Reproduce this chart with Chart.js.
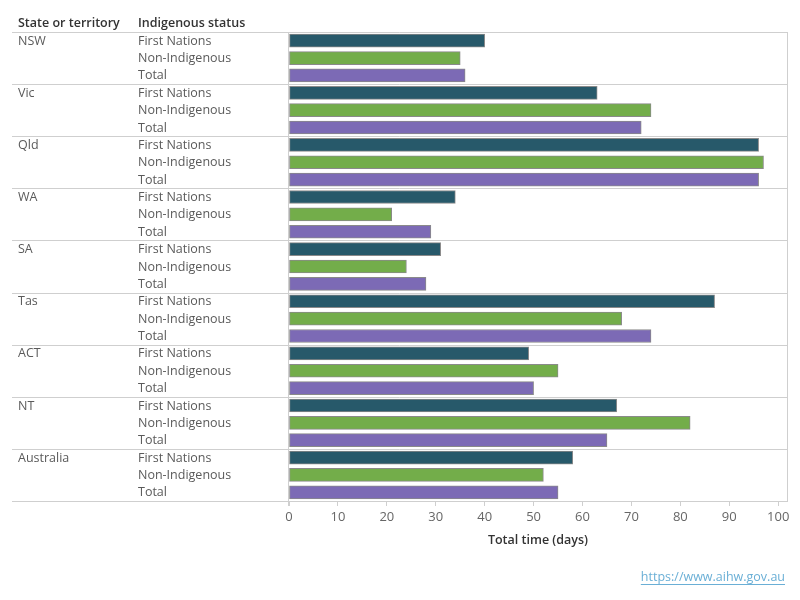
<!DOCTYPE html>
<html>
<head>
<meta charset="utf-8">
<script src="https://cdn.jsdelivr.net/npm/chart.js@4"></script>
<style>
  html, body { margin: 0; padding: 0; background: #fff; }
  #wrap { width: 800px; height: 600px; }
</style>
</head>
<body>
<div id="wrap"><canvas id="chart" width="800" height="600"></canvas></div>
<script>
const states = ["NSW", "Vic", "Qld", "WA", "SA", "Tas", "ACT", "NT", "Australia"];
const statuses = ["First Nations", "Non-Indigenous", "Total"];
const firstNations = [40, 63, 96, 34, 31, 87, 49, 67, 58];
const nonIndigenous = [35, 74, 97, 21, 24, 68, 55, 82, 52];
const totals = [36, 72, 96, 29, 28, 74, 50, 65, 55];
const xTicks = [0, 10, 20, 30, 40, 50, 60, 70, 80, 90, 100];

const statusColours = ["#27596a", "#73ad4a", "#7c6ab5"];
const labelFont = "12.5px 'Open Sans', sans-serif";
const headFont = "600 12.5px 'Open Sans', sans-serif";

// one row per state/status pair
const rowLabels = [];
const rowValues = [];
const rowColours = [];
states.forEach((s, i) => {
  [firstNations[i], nonIndigenous[i], totals[i]].forEach((v, j) => {
    rowLabels.push(s + "|" + statuses[j]);
    rowValues.push(v);
    rowColours.push(statusColours[j]);
  });
});

const tablePlugin = {
  id: "table",
  afterDraw(chart) {
    const ctx = chart.ctx;
    const area = chart.chartArea;
    const y = chart.scales.y;
    const rowH = (area.bottom - area.top) / rowLabels.length;
    ctx.save();

    // header
    ctx.fillStyle = "#333";
    ctx.font = headFont;
    ctx.textBaseline = "middle";
    ctx.fillText("State or territory", 18, 23);
    ctx.fillText("Indigenous status", 138, 23);

    // row labels
    ctx.font = labelFont;
    ctx.fillStyle = "#5a5a5a";
    rowLabels.forEach((lab, i) => {
      const py = y.getPixelForValue(i);
      const idx = i % 3;
      if (idx === 0) ctx.fillText(states[Math.floor(i / 3)], 18, py + 0.5);
      ctx.fillText(statuses[idx], 138, py + 0.5);
    });

    // group separators
    ctx.strokeStyle = "#cfcfcf";
    ctx.lineWidth = 1;
    for (let k = 0; k <= states.length; k++) {
      const py = Math.round(area.top + k * 3 * rowH) + 0.5;
      ctx.beginPath();
      ctx.moveTo(12, py);
      ctx.lineTo(Math.round(area.right) + 0.5, py);
      ctx.stroke();
    }

    // plot borders
    ctx.beginPath();
    ctx.moveTo(Math.round(area.left) - 0.5, area.top);
    ctx.lineTo(Math.round(area.left) - 0.5, area.bottom + 5);
    ctx.moveTo(Math.round(area.right) + 0.5, area.top);
    ctx.lineTo(Math.round(area.right) + 0.5, area.bottom);
    ctx.stroke();

    // source link
    const url = "https://www.aihw.gov.au";
    ctx.font = "12.5px 'Open Sans', sans-serif";
    ctx.fillStyle = "#6aafd6";
    ctx.textAlign = "right";
    ctx.fillText(url, 785, 577);
    const w = ctx.measureText(url).width;
    ctx.strokeStyle = "#6aafd6";
    ctx.beginPath();
    ctx.moveTo(785 - w, 584.5);
    ctx.lineTo(785, 584.5);
    ctx.stroke();

    ctx.restore();
  }
};

new Chart(document.getElementById("chart"), {
  type: "bar",
  data: {
    labels: rowLabels,
    datasets: [{
      data: rowValues,
      backgroundColor: rowColours,
      borderColor: "#8a8a8a",
      borderWidth: 1,
      borderSkipped: false,
      barThickness: 13
    }]
  },
  options: {
    indexAxis: "y",
    responsive: false,
    animation: false,
    layout: { padding: { left: 289, right: 13, top: 32, bottom: 29 } },
    plugins: {
      legend: { display: false },
      tooltip: { enabled: false }
    },
    scales: {
      y: { display: false },
      x: {
        min: 0,
        max: 101.8,
        afterFit: (scale) => { scale.height = 70; },
        afterBuildTicks: (scale) => { scale.ticks = xTicks.map(v => ({ value: v })); },
        ticks: {
          color: "#666",
          font: { family: "'Open Sans', sans-serif", size: 13 },
          padding: 3,
          maxRotation: 0
        },
        grid: {
          drawOnChartArea: false,
          drawTicks: true,
          tickLength: 5,
          color: "#cfcfcf"
        },
        border: { display: true, color: "#cfcfcf" },
        title: {
          display: true,
          text: "Total time (days)",
          color: "#333",
          font: { family: "'Open Sans', sans-serif", size: 12.5, weight: "600" },
          padding: { top: 0, bottom: 23 }
        }
      }
    }
  },
  plugins: [tablePlugin]
});
</script>
</body>
</html>
